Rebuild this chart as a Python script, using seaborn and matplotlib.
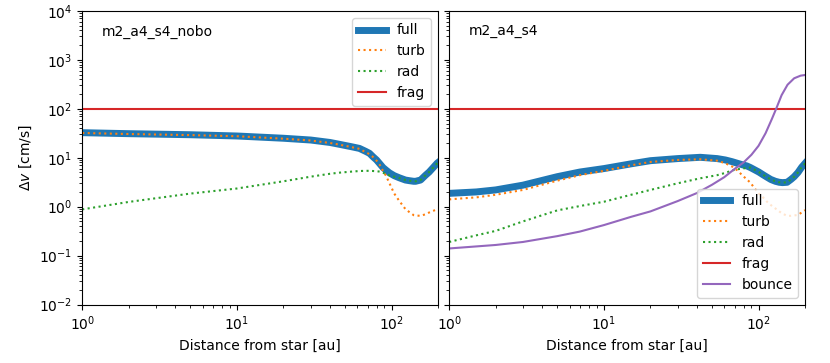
import matplotlib
matplotlib.use("Agg")
import matplotlib.pyplot as plt
import seaborn as sbn

# panel names
titulos = ["m2_a4_s4_nobo", "m2_a4_s4"]

# left panel (no bouncing)
x_izq = [1, 2, 5, 10, 20, 30, 40, 46, 55, 62, 68, 72, 76, 80, 84, 88, 92, 97,
         104, 112, 123, 130, 139, 143, 154, 166, 175, 186, 197, 200]
full_izq = [32.5, 31, 29.5, 27.8, 25, 23, 20.5, 18.8, 16.8, 15.5, 13.5, 12.3, 10.4, 9.0, 7.5, 6.3, 5.6, 4.9,
            4.3, 3.9, 3.5, 3.4, 3.3, 3.3, 3.5, 4.4, 5.1, 6.3, 7.7, 8.0]
turb_izq = [32, 30.5, 29, 27.5, 24.5, 22.5, 20, 18.5, 16.5, 15.2, 13, 11.8, 10.3, 8.7, 7.1, 5.4, 4.3, 3.0,
            1.86, 1.32, 0.89, 0.78, 0.67, 0.66, 0.65, 0.7, 0.76, 0.82, 0.89, 0.9]
rad_izq = [0.88, 1.25, 1.85, 2.35, 3.3, 4.1, 4.7, 4.95, 5.2, 5.35, 5.4, 5.4, 5.35, 5.3, 5.2, 4.95, 4.65, 4.35,
           4.1, 3.85, 3.5, 3.4, 3.3, 3.3, 3.5, 4.4, 5.1, 6.3, 7.7, 8.0]

# right panel (with bouncing)
x_der = [1, 1.5, 2, 3, 5, 7, 10, 15, 20, 30, 42, 54, 61, 67.5, 73, 78.4, 84, 88.6, 94, 100.4,
         108, 113.5, 120, 128.5, 136, 143, 153, 162, 170, 180, 190, 200]
full_der = [1.87, 2.0, 2.2, 2.75, 4.1, 5.1, 6.0, 7.5, 8.7, 9.6, 10.2, 9.6, 9.0, 8.3, 7.7, 7.2, 6.8, 6.3, 5.7, 5.1,
            4.4, 4.0, 3.6, 3.3, 3.15, 3.1, 3.15, 3.6, 4.1, 5.0, 6.4, 7.7]
turb_der = [1.41, 1.55, 1.75, 2.2, 3.4, 4.4, 5.4, 7.0, 8.2, 9.0, 9.3, 8.7, 7.7, 6.6, 5.5, 4.4, 3.6, 3.1, 2.4, 1.86,
            1.5, 1.26, 1.08, 0.92, 0.8, 0.72, 0.65, 0.65, 0.66, 0.68, 0.76, 0.85]
rad_der = [0.19, 0.26, 0.32, 0.5, 0.84, 1.03, 1.26, 1.75, 2.2, 3.0, 3.8, 4.4, 4.9, 5.5, 5.8, 6.0, 6.2, 6.3, 5.7, 5.1,
           4.4, 4.0, 3.6, 3.3, 3.15, 3.1, 3.15, 3.6, 4.1, 5.0, 6.4, 7.7]

x_bounce = [1, 2, 3, 5, 7, 10, 15, 20, 30, 40, 50, 60, 70, 80, 90, 100, 111, 122, 130, 141, 154, 170, 187, 200]
bounce_der = [0.14, 0.165, 0.19, 0.25, 0.31, 0.42, 0.62, 0.8, 1.3, 1.9, 2.8, 4.0, 5.9, 8.0, 11.5, 17.5, 31.6, 62, 100,
              190, 310, 420, 475, 490]

v_frag = 100
x_lim = [1, 200]

fig, axs = plt.subplots(1, 2, figsize=(8.3, 3.63), dpi=100, sharey=True)
fig.subplots_adjust(left=0.099, right=0.97, top=0.97, bottom=0.161, wspace=0.031)


def dibujar(ax, x, full, turb, rad):
    sbn.lineplot(x=x, y=full, ax=ax, color="C0", lw=5, label="full")
    sbn.lineplot(x=x, y=turb, ax=ax, color="C1", lw=1.5, linestyle=":", label="turb")
    sbn.lineplot(x=x, y=rad, ax=ax, color="C2", lw=1.5, linestyle=":", label="rad")
    sbn.lineplot(x=x_lim, y=[v_frag, v_frag], ax=ax, color="C3", lw=1.5, label="frag")


dibujar(axs[0], x_izq, full_izq, turb_izq, rad_izq)
dibujar(axs[1], x_der, full_der, turb_der, rad_der)
sbn.lineplot(x=x_bounce, y=bounce_der, ax=axs[1], color="C4", lw=1.5, label="bounce")

for ax, t in zip(axs, titulos):
    ax.set_xscale("log")
    ax.set_yscale("log")
    ax.set_xlim(x_lim)
    ax.set_ylim(1e-2, 1e4)
    ax.set_xlabel("Distance from star [au]")
    ax.text(0.055, 0.93, t, transform=ax.transAxes, va="center", fontsize=10)

axs[0].set_ylabel(r"$\Delta v$ [cm/s]")
axs[0].legend(loc="upper right")
axs[1].legend(loc="lower right")

plt.savefig("out.png", dpi=100)
